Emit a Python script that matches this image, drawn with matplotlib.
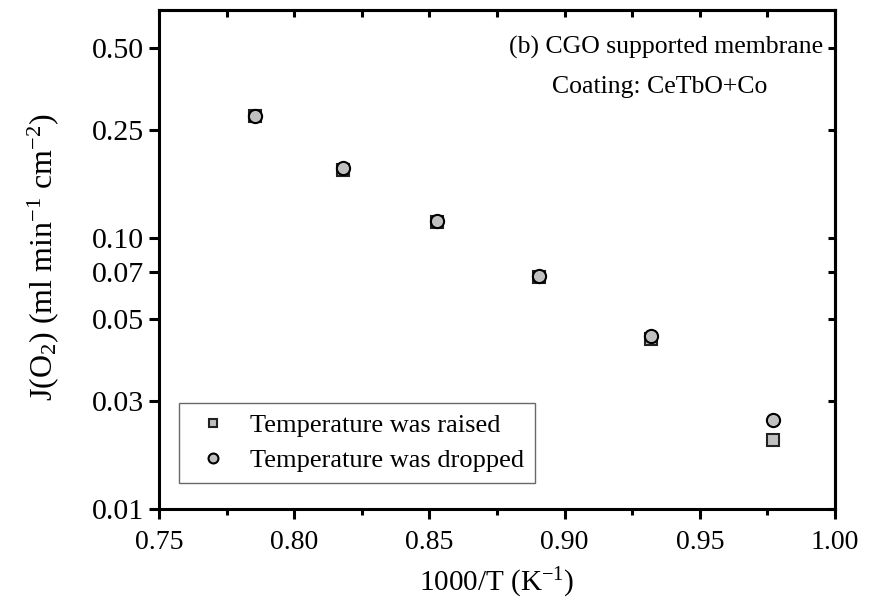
import matplotlib
matplotlib.use('Agg')
import matplotlib.pyplot as plt
from matplotlib.ticker import FixedLocator, FixedFormatter, MultipleLocator, NullLocator

plt.rcParams['font.family'] = ['Liberation Serif', 'DejaVu Serif']
plt.rcParams['mathtext.fontset'] = 'custom'
plt.rcParams['mathtext.rm'] = 'Liberation Serif'
plt.rcParams['mathtext.it'] = 'Liberation Serif:italic'

# data
inv_t = [0.7855, 0.818, 0.8527, 0.8905, 0.932, 0.977]
j_raised = [0.281, 0.178, 0.114, 0.0715, 0.0423, 0.0180]
j_dropped = [0.281, 0.180, 0.1155, 0.0722, 0.0434, 0.0212]

# tick marks sit where the original drew them (labels as printed)
ytick_pos = [0.01, 0.025, 0.05, 0.075, 0.10, 0.25, 0.50]
ytick_labels = ['0.01', '0.03', '0.05', '0.07', '0.10', '0.25', '0.50']

fig = plt.figure(figsize=(8.79, 6.05), dpi=100)
ax = fig.add_axes([0.181, 0.1587, 0.769, 0.8248])

ax.plot(inv_t, j_raised, 's', ms=8.5, mfc='#c0c0c0', mec='#222222', mew=1.5,
        label='Temperature was raised')
ax.plot(inv_t, j_dropped, 'o', ms=9.5, mfc='#c0c0c0', mec='black', mew=1.5,
        label='Temperature was dropped')

ax.set_yscale('log')
ax.set_xlim(0.75, 1.00)
ax.set_ylim(0.01, 0.69)

ax.yaxis.set_major_locator(FixedLocator(ytick_pos))
ax.yaxis.set_major_formatter(FixedFormatter(ytick_labels))
ax.yaxis.set_minor_locator(NullLocator())
ax.xaxis.set_major_locator(MultipleLocator(0.05))
ax.xaxis.set_minor_locator(MultipleLocator(0.025))
ax.xaxis.set_major_formatter(matplotlib.ticker.FormatStrFormatter('%.2f'))

for s in ax.spines.values():
    s.set_linewidth(2.2)

ax.tick_params(axis='both', which='major', direction='out', length=7, width=2.2,
               top=False, right=False)
ax.tick_params(axis='x', which='major', labelsize=20, pad=8)
ax.tick_params(axis='y', which='major', labelsize=21.5, pad=4)
ax.tick_params(axis='x', which='minor', direction='out', length=4, width=2.2)

# inward ticks on top and right
sec_x = ax.secondary_xaxis('top')
sec_x.xaxis.set_major_locator(MultipleLocator(0.025))
sec_x.tick_params(direction='in', length=5, width=2.2, labeltop=False)
sec_x.spines['top'].set_linewidth(2.2)
sec_y = ax.secondary_yaxis('right')
sec_y.yaxis.set_major_locator(FixedLocator(ytick_pos))
sec_y.yaxis.set_minor_locator(NullLocator())
sec_y.tick_params(direction='in', length=5, width=2.2, labelright=False)
sec_y.spines['right'].set_linewidth(2.2)

ax.set_xlabel(r'1000/T (K$^{\mathregular{-1}}$)', fontsize=21, labelpad=8)
ax.set_ylabel(r'J(O$_{\mathregular{2}}$) (ml min$^{\mathregular{-1}}$ cm$^{\mathregular{-2}}$)',
              fontsize=23)
ax.yaxis.set_label_coords(-0.145, 0.505)

ax.text(0.75, 0.924, '(b) CGO supported membrane', transform=ax.transAxes,
        ha='center', va='center', fontsize=18.5)
ax.text(0.74, 0.846, 'Coating: CeTbO+Co', transform=ax.transAxes,
        ha='center', va='center', fontsize=18.5)

leg = ax.legend(loc='lower left', bbox_to_anchor=(0.0296, 0.052), borderaxespad=0,
                fontsize=19, frameon=True, fancybox=False, edgecolor='#444444',
                handlelength=1.8, handletextpad=0.5, borderpad=0.4,
                labelspacing=0.45, markerscale=0.75)
leg.get_frame().set_linewidth(1.0)

fig.savefig('out.png', dpi=100)
